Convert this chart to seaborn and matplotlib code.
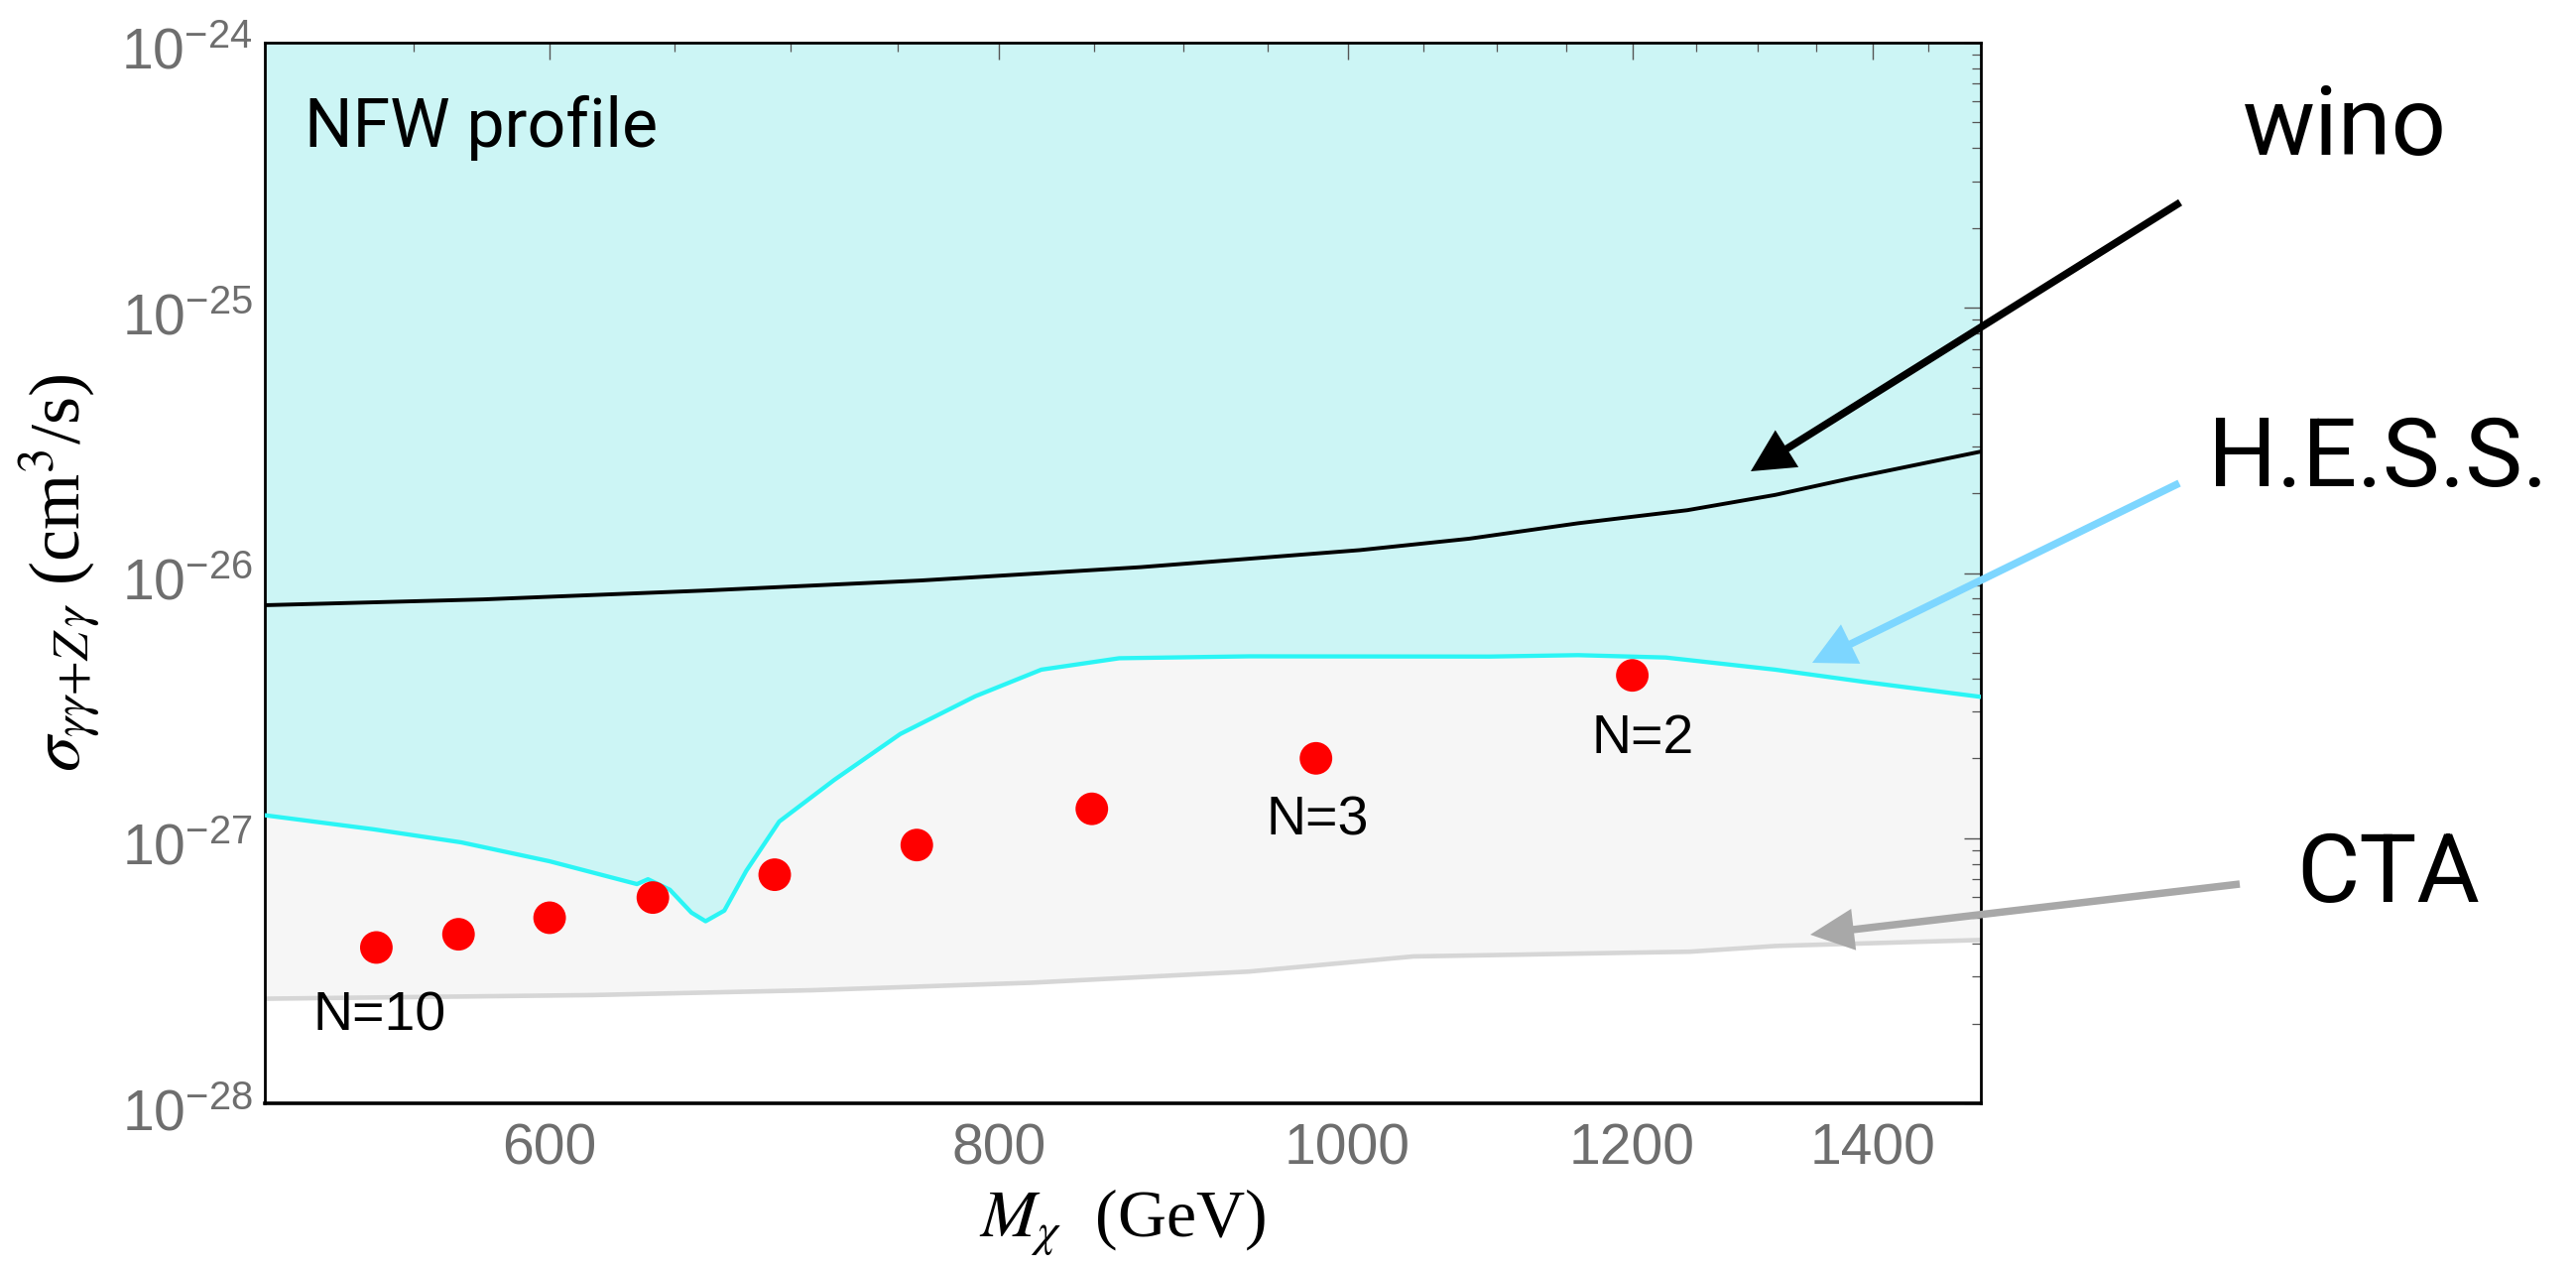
import numpy as np
import matplotlib
matplotlib.use("Agg")
import matplotlib.pyplot as plt
import seaborn as sns
from matplotlib import ticker
from matplotlib.patches import FancyArrow
from matplotlib.transforms import ScaledTranslation

sns.set_style("white")
plt.rcParams["font.family"] = ["Liberation Sans", "DejaVu Sans"]
plt.rcParams["mathtext.fontset"] = "custom"
plt.rcParams["mathtext.rm"] = "Liberation Sans"
plt.rcParams["mathtext.it"] = "Liberation Sans:italic"
plt.rcParams["mathtext.bf"] = "Liberation Sans:bold"

# ---------------- data ----------------
wino_mass = [500, 575, 662, 761, 876, 1008, 1081, 1159, 1243, 1315, 1381, 1500]
wino_sigma = [7.56e-27, 7.95e-27, 8.58e-27, 9.37e-27, 1.052e-26, 1.22e-26,
              1.347e-26, 1.54e-26, 1.725e-26, 1.97e-26, 2.28e-26, 2.87e-26]

hess_mass = [500, 536, 567, 600, 634.5, 639, 648, 657, 663, 671, 680.5, 695,
             720, 751, 788, 822, 864, 939, 1095, 1159, 1226, 1315, 1391, 1500]
hess_sigma = [1.22e-27, 1.08e-27, 9.64e-28, 8.18e-28, 6.71e-28, 7.00e-28,
              6.39e-28, 5.24e-28, 4.86e-28, 5.33e-28, 7.53e-28, 1.155e-27,
              1.66e-27, 2.47e-27, 3.43e-27, 4.32e-27, 4.77e-27, 4.85e-27,
              4.84e-27, 4.90e-27, 4.80e-27, 4.32e-27, 3.89e-27, 3.41e-27]

cta_mass = [500, 617, 710, 817, 939, 1043, 1095, 1200, 1245, 1315, 1500]
cta_sigma = [2.48e-28, 2.56e-28, 2.67e-28, 2.85e-28, 3.14e-28, 3.58e-28,
             3.62e-28, 3.70e-28, 3.73e-28, 3.92e-28, 4.13e-28]

dot_mass = [537, 566, 600, 641, 693, 759, 849, 980, 1200]
dot_sigma = [3.87e-28, 4.34e-28, 5.01e-28, 5.97e-28, 7.28e-28, 9.42e-28,
             1.29e-27, 2.00e-27, 4.11e-27]

n_labels = ["N=10", "N=3", "N=2"]
n_label_mass = [538, 981, 1208]
n_label_sigma = [1.89e-28, 1.03e-27, 2.09e-27]

x_major = [600, 800, 1000, 1200, 1400]
x_minor = [550, 650, 700, 750, 850, 900, 950, 1050, 1100, 1150, 1250, 1300,
           1350, 1450]

# ---------------- figure ----------------
W, H = 2597, 1280
fig = plt.figure(figsize=(W / 100, H / 100), dpi=100)
ax = fig.add_axes([267 / W, 168 / H, 1730 / W, 1069 / H])
ax.set_xscale("log")
ax.set_yscale("log")
ax.set_xlim(500, 1500)
ax.set_ylim(1e-28, 1e-24)

# shaded regions
ax.fill_between(hess_mass, hess_sigma, 1e-24, color="#CCF5F5", lw=0, zorder=0)
ax.fill(list(hess_mass) + list(cta_mass[::-1]),
        list(hess_sigma) + list(cta_sigma[::-1]),
        color="#F6F6F6", lw=0, zorder=0)

sns.lineplot(x=cta_mass, y=cta_sigma, ax=ax, color="#D6D6D6", lw=3.3,
             sort=False, estimator=None, zorder=2)
sns.lineplot(x=hess_mass, y=hess_sigma, ax=ax, color="#2AF5F5", lw=3.1,
             sort=False, estimator=None, zorder=3)
sns.lineplot(x=wino_mass, y=wino_sigma, ax=ax, color="black", lw=2.8,
             sort=False, estimator=None, zorder=4)
sns.scatterplot(x=dot_mass, y=dot_sigma, ax=ax, s=560, color="#FF0000",
                edgecolor="none", linewidth=0, zorder=6)

for lab, m, s in zip(n_labels, n_label_mass, n_label_sigma):
    ax.text(m, s, lab, ha="center", va="baseline", fontsize=40,
            color="black", zorder=7)

ax.text(0.0231, 0.9018, "NFW profile", transform=ax.transAxes, fontsize=49,
        family=["Roboto", "DejaVu Sans"], color="black")

# ticks
ax.xaxis.set_major_locator(ticker.FixedLocator(x_major))
ax.xaxis.set_major_formatter(ticker.FixedFormatter([str(v) for v in x_major]))
ax.xaxis.set_minor_locator(ticker.FixedLocator(x_minor))
ax.xaxis.set_minor_formatter(ticker.NullFormatter())
ax.yaxis.set_major_locator(ticker.LogLocator(base=10, numticks=10))
ax.yaxis.set_minor_locator(ticker.LogLocator(base=10, subs=range(2, 10), numticks=20))
ax.yaxis.set_minor_formatter(ticker.NullFormatter())

ax.tick_params(which="both", direction="in", top=True, right=True,
               color="#555555", labelcolor="#6E6E6E")
ax.tick_params(which="major", length=12, width=1.0, labelsize=41)
ax.tick_params(which="minor", length=6.5, width=0.9)
ax.tick_params(axis="x", which="major", pad=14)
ax.tick_params(axis="y", which="major", pad=9)

# nudge the y tick labels slightly down, as in the reference
offset = ScaledTranslation(0, -6 / 100, fig.dpi_scale_trans)
for lbl in ax.get_yticklabels():
    lbl.set_transform(lbl.get_transform() + offset)

for name, sp in ax.spines.items():
    sp.set_color("black")
    sp.set_linewidth(2.0)
ax.spines["bottom"].set_linewidth(2.6)

ax.set_xlabel(r"$M_\chi$  (GeV)", fontsize=49, family="Liberation Serif",
              math_fontfamily="stix", labelpad=8, color="black")
ax.set_ylabel(r"$\sigma_{\gamma\gamma{+}Z\,\gamma}$ (cm$^3$/s)", fontsize=52,
              family="Liberation Serif", math_fontfamily="stix", labelpad=12,
              color="black")

# side labels
side_font = dict(fontsize=70, family=["Roboto", "DejaVu Sans"],
                 color="black", va="baseline", ha="left")
fig.text(2261 / W, 1 - 156 / H, "wino", **side_font)
fig.text(2226 / W, 1 - 490 / H, "H.E.S.S.", **side_font)
fig.text(2315 / W, 1 - 909 / H, "CTA", **side_font)


def arrow(tail, tip, color, width=7.5, hw=44, hl=43):
    x0, y0 = tail[0] / 100, (H - tail[1]) / 100
    x1, y1 = tip[0] / 100, (H - tip[1]) / 100
    a = FancyArrow(x0, y0, x1 - x0, y1 - y0, width=width / 100,
                   head_width=hw / 100, head_length=hl / 100,
                   length_includes_head=True, color=color, lw=0,
                   transform=fig.dpi_scale_trans, zorder=10)
    fig.add_artist(a)


arrow((2198, 204), (1765, 475), "black")
arrow((2197, 487), (1827, 668), "#7DD6FF")
arrow((2258, 891), (1825, 942), "#A8A8A8", hw=42, hl=44)

fig.savefig("out.png", dpi=100)
